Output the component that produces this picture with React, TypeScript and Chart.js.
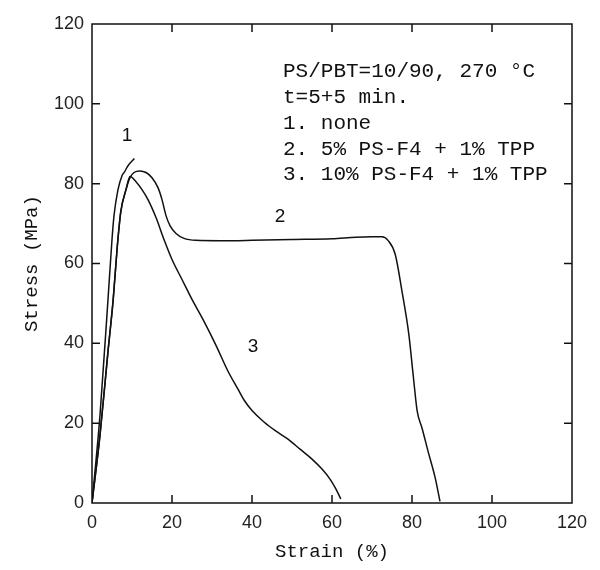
import React, { useEffect, useRef } from "react";
import { Chart, registerables } from "chart.js";

Chart.register(...registerables);

// Curve 1: none
const strain1 = [0, 2, 4, 5, 5.5, 6.5, 7.5, 8.1, 9, 10.6];
const stress1 = [0, 22, 51, 66, 72, 78.5, 82, 82.9, 84.5, 86.3];

// Curve 2: 5% PS-F4 + 1% TPP
const strain2 = [0, 2, 4, 5.3, 6.3, 7.2, 8.5, 9.5, 10.5, 12, 13.5, 15, 16.5, 17.5, 18.5, 19.5, 21, 23, 26, 32, 40, 50, 60, 66, 70, 72.5, 74, 75.8, 77.5, 79.2, 80.3, 81.3, 82.5, 84, 85.8, 87];
const stress2 = [0, 17, 38, 51, 64, 73, 78.5, 81.5, 82.8, 83.2, 82.8, 81.5, 79, 76, 72, 69.5, 67.5, 66.3, 65.8, 65.7, 65.8, 66, 66.2, 66.6, 66.7, 66.7, 65.8, 62.3, 53, 42.3, 32, 23, 18.8, 13, 6.3, 0.4];

// Curve 3: 10% PS-F4 + 1% TPP
const strain3 = [0, 2, 4, 5.3, 6.3, 7.2, 8.5, 9.5, 11, 12.5, 14, 16, 18, 20, 22.5, 25, 28, 31, 34, 36.5, 38, 40, 43, 46, 49, 52, 55, 57.5, 59.5, 61, 62.2];
const stress3 = [0, 17, 38, 51, 64, 73, 78.5, 81.8, 80.5, 78.5, 76, 71.5, 66, 61, 56, 51, 45.5, 39.5, 33, 28.5, 25.8, 23.2, 20.3, 18, 16, 13.5, 11, 8.5, 6, 3.5, 1];

const xTicks = [0, 20, 40, 60, 80, 100, 120];
const yTicks = [0, 20, 40, 60, 80, 100, 120];

const legendLines = [
  "PS/PBT=10/90, 270 °C",
  "t=5+5 min.",
  "1. none",
  "2. 5% PS-F4 + 1% TPP",
  "3. 10% PS-F4 + 1% TPP",
];
const legendX = 47.75;
const legendY = 108;

const curveLabels = ["1", "2", "3"];
const curveLabelX = [8.75, 47, 40.25];
const curveLabelY = [92, 71.8, 39.2];

const toPts = (xs: number[], ys: number[]) => xs.map((x, i) => ({ x, y: ys[i] }));

const frameTicksPlugin = {
  id: "frameTicks",
  afterDraw(chart: any) {
    const { ctx, chartArea: a, scales } = chart;
    const xs = scales.x;
    const ys = scales.y;
    ctx.save();
    ctx.strokeStyle = "#111";
    ctx.lineWidth = 1.5;
    ctx.strokeRect(a.left, a.top, a.right - a.left, a.bottom - a.top);
    const L = 8;
    ctx.beginPath();
    xTicks.forEach((v) => {
      const px = xs.getPixelForValue(v);
      if (v === xTicks[0] || v === xTicks[xTicks.length - 1]) return;
      ctx.moveTo(px, a.bottom);
      ctx.lineTo(px, a.bottom - L);
      ctx.moveTo(px, a.top);
      ctx.lineTo(px, a.top + L);
    });
    yTicks.forEach((v) => {
      const py = ys.getPixelForValue(v);
      if (v === yTicks[0] || v === yTicks[yTicks.length - 1]) return;
      ctx.moveTo(a.left, py);
      ctx.lineTo(a.left + L, py);
      ctx.moveTo(a.right, py);
      ctx.lineTo(a.right - L, py);
    });
    ctx.stroke();

    // legend text block
    ctx.fillStyle = "#111";
    ctx.font = "21px 'Liberation Mono', monospace";
    ctx.textBaseline = "middle";
    ctx.textAlign = "left";
    const lx = xs.getPixelForValue(legendX);
    const ly = ys.getPixelForValue(legendY);
    legendLines.forEach((t, i) => ctx.fillText(t, lx, ly + i * 25.7));

    // curve labels
    ctx.font = "19px 'Liberation Sans', sans-serif";
    ctx.textAlign = "center";
    curveLabels.forEach((t, i) =>
      ctx.fillText(t, xs.getPixelForValue(curveLabelX[i]), ys.getPixelForValue(curveLabelY[i]))
    );
    ctx.restore();
  },
};

export default function App() {
  const ref = useRef<HTMLCanvasElement | null>(null);
  useEffect(() => {
    if (!ref.current) return;
    const ds = (xs: number[], ys: number[], label: string) => ({
      label,
      data: toPts(xs, ys),
      borderColor: "#111",
      borderWidth: 1.5,
      pointRadius: 0,
      fill: false,
      showLine: true,
      cubicInterpolationMode: "monotone" as const,
    });
    const chart = new Chart(ref.current, {
      type: "scatter",
      data: {
        datasets: [
          ds(strain1, stress1, "1. none"),
          ds(strain2, stress2, "2. 5% PS-F4 + 1% TPP"),
          ds(strain3, stress3, "3. 10% PS-F4 + 1% TPP"),
        ],
      },
      options: {
        animation: false,
        responsive: false,
        layout: { padding: { left: 0, right: 28, top: 24, bottom: 0 } },
        plugins: { legend: { display: false }, tooltip: { enabled: false } },
        scales: {
          x: {
            type: "linear",
            min: 0,
            max: 120,
            afterFit: (s: any) => {
              s.height = 67;
            },
            afterBuildTicks: (s: any) => {
              s.ticks = xTicks.map((v) => ({ value: v }));
            },
            grid: { display: false, drawTicks: false },
            border: { display: false },
            ticks: {
              color: "#222",
              padding: 9,
              font: { family: "'Liberation Sans', sans-serif", size: 18 },
              maxRotation: 0,
            },
            title: {
              display: true,
              text: "Strain (%)",
              color: "#111",
              font: { family: "'Liberation Mono', monospace", size: 19 },
              padding: { top: 12, bottom: 7 },
            },
          },
          y: {
            type: "linear",
            min: 0,
            max: 120,
            afterFit: (s: any) => {
              s.width = 92;
            },
            afterBuildTicks: (s: any) => {
              s.ticks = yTicks.map((v) => ({ value: v }));
            },
            grid: { display: false, drawTicks: false },
            border: { display: false },
            ticks: {
              color: "#222",
              padding: 8,
              font: { family: "'Liberation Sans', sans-serif", size: 18 },
            },
            title: {
              display: true,
              text: "Stress (MPa)",
              color: "#111",
              font: { family: "'Liberation Mono', monospace", size: 19 },
              padding: { top: 21, bottom: 0 },
            },
          },
        },
      },
      plugins: [frameTicksPlugin],
    });
    return () => chart.destroy();
  }, []);
  return (
    <div style={{ position: "fixed", left: 0, top: 0, width: 600, height: 570, background: "#fff" }}>
      <canvas ref={ref} width={600} height={570} style={{ display: "block" }} />
    </div>
  );
}
